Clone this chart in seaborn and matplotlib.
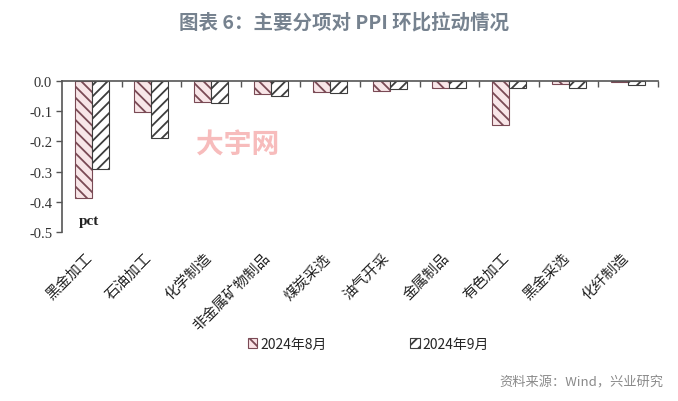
#!/usr/bin/env python3
"""主要分项对 PPI 环比拉动情况（2024年8月 vs 9月）。"""

import pandas as pd
import matplotlib
matplotlib.use("Agg")
import matplotlib.pyplot as plt
import matplotlib.transforms as mtransforms
from matplotlib.patches import Patch
from matplotlib.ticker import FixedLocator
import seaborn as sns

# 数据
categories = ["黑金加工", "石油加工", "化学制造", "非金属矿物制品", "煤炭采选",
              "油气开采", "金属制品", "有色加工", "黑金采选", "化纤制造"]
aug_values = [-0.388, -0.101, -0.068, -0.042, -0.037, -0.034, -0.023, -0.146, -0.010, -0.002]
sep_values = [-0.291, -0.188, -0.074, -0.048, -0.040, -0.026, -0.023, -0.023, -0.022, -0.014]
series_names = ["2024年8月", "2024年9月"]
y_ticks = [0.0, -0.1, -0.2, -0.3, -0.4, -0.5]

df = pd.DataFrame({
    "分项": categories * 2,
    "拉动": aug_values + sep_values,
    "月份": [series_names[0]] * len(categories) + [series_names[1]] * len(categories),
})

sns.set_style("white")
plt.rcParams["font.family"] = ["Noto Sans CJK SC", "DejaVu Sans"]
plt.rcParams["hatch.linewidth"] = 1.3

fig = plt.figure(figsize=(6.78, 4.02), dpi=100)
ax = fig.add_axes([0.0914, 0.420, 0.879, 0.376])

fills = {series_names[0]: "#fbe3e6", series_names[1]: "#ffffff"}
sns.barplot(data=df, x="分项", y="拉动", hue="月份", palette=fills,
            width=0.57, gap=0, ax=ax, legend=False, errorbar=None)

# 斜线填充
styles = [("\\\\\\", "#7a4a55"), ("///", "#3d3d3d")]
for cont, (hatch, ec) in zip(ax.containers, styles):
    for bar in cont:
        bar.set_hatch(hatch)
        bar.set_edgecolor(ec)
        bar.set_linewidth(0.8)

ax.set_ylim(-0.5, 0)
ax.set_xlim(-0.5, len(categories) - 0.5)
ax.set_yticks(y_ticks)
ax.set_yticklabels([f"{v:.1f}" for v in y_ticks], family="Liberation Serif",
                   fontsize=10.5, color="#333333")
ax.set_xlabel("")
ax.set_ylabel("")

for side in ["right", "bottom"]:
    ax.spines[side].set_visible(False)
for side in ["left", "top"]:
    ax.spines[side].set_color("#555555")
    ax.spines[side].set_linewidth(1.2)

ax.tick_params(axis="y", direction="out", length=4, width=1, color="#555555", pad=3, left=True)

# 类别分隔刻度（画在零线上）
ax.xaxis.set_minor_locator(FixedLocator([i + 0.5 for i in range(len(categories))]))
ax.tick_params(axis="x", which="minor", top=True, bottom=False, direction="in",
               length=4, width=1, color="#555555")
ax.tick_params(axis="x", which="major", length=0, pad=13, bottom=True, top=False)
ax.set_xticks(range(len(categories)))
ax.set_xticklabels(categories, rotation=45, ha="right", rotation_mode="anchor",
                   fontsize=10.5, color="#222222")
offset = mtransforms.ScaledTranslation(-0.07, 0, fig.dpi_scale_trans)
for lbl in ax.get_xticklabels():
    lbl.set_transform(lbl.get_transform() + offset)

ax.text(0.028, 0.055, "pct", transform=ax.transAxes, family="Liberation Serif",
        fontweight="bold", fontsize=11, color="#222222")

# 水印
ax.text(0.295, 0.58, "大宇网", transform=ax.transAxes, fontsize=20, fontweight="bold",
        color="#f7bcbc", ha="center", va="center")

# 图例
handles = [Patch(facecolor=fills[n], edgecolor=ec, hatch=h, linewidth=0.8)
           for n, (h, ec) in zip(series_names, styles)]
fig.legend(handles, series_names, loc="center", bbox_to_anchor=(0.543, 0.143), ncol=2,
           frameon=False, fontsize=10, handlelength=0.7, handleheight=0.7,
           handletextpad=0.2, columnspacing=6.0)

fig.text(0.507, 0.945, "图表 6：主要分项对 PPI 环比拉动情况", ha="center", va="center",
         fontsize=14, fontweight="bold", color="#76828f")
fig.text(0.978, 0.048, "资料来源：Wind，兴业研究", ha="right", va="center",
         fontsize=9.5, color="#8a8a8a")

fig.savefig("out.png", dpi=100)
